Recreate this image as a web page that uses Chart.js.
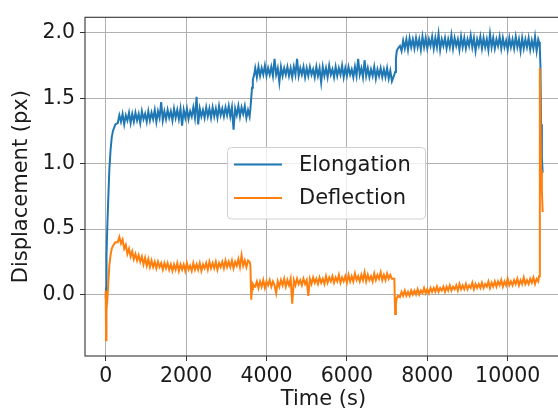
<!DOCTYPE html>
<html>
<head>
<meta charset="utf-8">
<script src="https://cdn.jsdelivr.net/npm/chart.js@4"></script>
<style>
  html, body { margin: 0; padding: 0; background: #fff; overflow: hidden; }
  #wrap { width: 566px; height: 412px; }
</style>
</head>
<body>
<div id="wrap"><canvas id="linechart__displacement" width="566" height="412"></canvas></div>
<script>
// Time axis (s)
const timeS = [
  0, 10, 20, 40, 60, 90, 120, 150, 180, 240,
  300, 340, 380, 420, 460, 500, 540, 580, 620, 660,
  700, 740, 780, 820, 860, 900, 940, 980, 1020, 1060,
  1100, 1140, 1180, 1220, 1260, 1300, 1340, 1380, 1420, 1460,
  1500, 1540, 1580, 1620, 1660, 1700, 1740, 1780, 1820, 1860,
  1900, 1940, 1980, 2020, 2060, 2100, 2140, 2180, 2220, 2260,
  2300, 2340, 2380, 2420, 2460, 2500, 2540, 2580, 2620, 2660,
  2700, 2740, 2780, 2820, 2860, 2900, 2940, 2980, 3020, 3060,
  3100, 3140, 3180, 3220, 3260, 3300, 3340, 3380, 3420, 3460,
  3500, 3540,
  3580, 3600, 3620, 3640, 3660, 3700,
  3720, 3760, 3800, 3840, 3880, 3920, 3960, 4000, 4040, 4080,
  4120, 4160, 4200, 4240, 4280, 4320, 4360, 4400, 4440, 4480,
  4520, 4560, 4600, 4640, 4680, 4720, 4760, 4800, 4840, 4880,
  4920, 4960, 5000, 5040, 5080, 5120, 5160, 5200, 5240, 5280,
  5320, 5360, 5400, 5440, 5480, 5520, 5560, 5600, 5640, 5680,
  5720, 5760, 5800, 5840, 5880, 5920, 5960, 6000, 6040, 6080,
  6120, 6160, 6200, 6240, 6280, 6320, 6360, 6400, 6440, 6480,
  6520, 6560, 6600, 6640, 6680, 6720, 6760, 6800, 6840, 6880,
  6920, 6960, 7000, 7040, 7080, 7120,
  7180, 7200, 7220, 7240, 7270,
  7320, 7360, 7400, 7440, 7480, 7520, 7560, 7600, 7640, 7680,
  7720, 7760, 7800, 7840, 7880, 7920, 7960, 8000, 8040, 8080,
  8120, 8160, 8200, 8240, 8280, 8320, 8360, 8400, 8440, 8480,
  8520, 8560, 8600, 8640, 8680, 8720, 8760, 8800, 8840, 8880,
  8920, 8960, 9000, 9040, 9080, 9120, 9160, 9200, 9240, 9280,
  9320, 9360, 9400, 9440, 9480, 9520, 9560, 9600, 9640, 9680,
  9720, 9760, 9800, 9840, 9880, 9920, 9960, 10000, 10040, 10080,
  10120, 10160, 10200, 10240, 10280, 10320, 10360, 10400, 10440, 10480,
  10520, 10560, 10600, 10640, 10680, 10720, 10760,
  10780, 10800, 10815, 10830, 10850, 10870
];

// Elongation (px)
const elongation = [
  -0.03, 0.05, 0.30, 0.52, 0.70, 0.95, 1.10, 1.20, 1.25, 1.30,
  1.31, 1.37, 1.32, 1.38, 1.30, 1.37, 1.33, 1.39, 1.31, 1.38,
  1.32, 1.39, 1.33, 1.38, 1.31, 1.40, 1.34, 1.38, 1.32, 1.40,
  1.33, 1.39, 1.34, 1.41, 1.32, 1.40, 1.35, 1.47, 1.33, 1.40,
  1.34, 1.41, 1.35, 1.40, 1.33, 1.42, 1.35, 1.41, 1.34, 1.42,
  1.29, 1.41, 1.35, 1.42, 1.34, 1.40, 1.36, 1.43, 1.35, 1.51,
  1.30, 1.42, 1.36, 1.41, 1.35, 1.43, 1.36, 1.42, 1.35, 1.43,
  1.36, 1.42, 1.35, 1.44, 1.37, 1.42, 1.36, 1.43, 1.37, 1.44,
  1.36, 1.43, 1.26, 1.42, 1.37, 1.44, 1.36, 1.43, 1.38, 1.44,
  1.35, 1.41,
  1.36, 1.42, 1.50, 1.58, 1.64, 1.69,
  1.73, 1.66, 1.74, 1.67, 1.73, 1.68, 1.75, 1.67, 1.73, 1.68,
  1.74, 1.67, 1.80, 1.68, 1.73, 1.62, 1.74, 1.67, 1.73, 1.68,
  1.74, 1.67, 1.73, 1.66, 1.74, 1.68, 1.80, 1.67, 1.73, 1.68,
  1.74, 1.66, 1.73, 1.67, 1.74, 1.68, 1.72, 1.66, 1.74, 1.67,
  1.73, 1.62, 1.74, 1.67, 1.73, 1.66, 1.75, 1.68, 1.72, 1.66,
  1.74, 1.67, 1.73, 1.68, 1.75, 1.66, 1.73, 1.67, 1.74, 1.68,
  1.72, 1.66, 1.74, 1.67, 1.80, 1.68, 1.73, 1.66, 1.79, 1.67,
  1.73, 1.66, 1.72, 1.67, 1.74, 1.65, 1.72, 1.67, 1.73, 1.66,
  1.72, 1.66, 1.73, 1.65, 1.71, 1.63,
  1.68, 1.70, 1.80, 1.86, 1.88,
  1.90, 1.86, 1.94, 1.88, 1.95, 1.87, 1.96, 1.89, 1.95, 1.88,
  1.96, 1.89, 1.95, 1.87, 1.97, 1.89, 1.96, 1.88, 1.95, 1.90,
  1.97, 1.88, 1.96, 1.89, 1.99, 1.87, 1.95, 1.90, 1.96, 1.88,
  1.95, 1.89, 1.98, 1.88, 1.96, 1.90, 1.95, 1.87, 1.97, 1.89,
  1.96, 1.88, 1.95, 1.90, 1.98, 1.89, 1.96, 1.86, 1.95, 1.90,
  1.97, 1.88, 1.96, 1.89, 1.95, 1.87, 1.99, 1.89, 1.96, 1.88,
  1.95, 1.90, 1.97, 1.88, 1.96, 1.89, 1.94, 1.87, 1.96, 1.89,
  1.95, 1.88, 1.97, 1.89, 1.95, 1.86, 1.96, 1.88, 1.95, 1.89,
  1.96, 1.87, 1.94, 1.88, 1.97, 1.86, 1.95,
  1.93, 1.88, 1.74, 1.30, 1.05, 0.93
];

// Deflection (px)
const deflection = [
  0.03, -0.35, -0.12, -0.04, 0.06, 0.22, 0.30, 0.35, 0.37, 0.40,
  0.40, 0.44, 0.39, 0.42, 0.35, 0.38, 0.31, 0.35, 0.29, 0.33,
  0.27, 0.31, 0.26, 0.30, 0.25, 0.29, 0.23, 0.28, 0.22, 0.27,
  0.21, 0.26, 0.21, 0.25, 0.20, 0.25, 0.21, 0.24, 0.19, 0.24,
  0.20, 0.24, 0.19, 0.23, 0.18, 0.23, 0.19, 0.24, 0.18, 0.23,
  0.19, 0.23, 0.18, 0.24, 0.19, 0.22, 0.18, 0.24, 0.19, 0.23,
  0.19, 0.24, 0.18, 0.23, 0.20, 0.24, 0.19, 0.25, 0.20, 0.24,
  0.20, 0.25, 0.19, 0.24, 0.21, 0.25, 0.20, 0.26, 0.21, 0.25,
  0.21, 0.26, 0.20, 0.25, 0.22, 0.27, 0.21, 0.30, 0.22, 0.26,
  0.21, 0.26,
  0.25, 0.22, -0.04, 0.04, 0.08, 0.06,
  0.06, 0.10, 0.05, 0.10, 0.06, 0.11, 0.05, 0.10, 0.07, 0.11,
  0.06, 0.10, 0.07, 0.01, 0.10, 0.06, 0.11, 0.07, 0.12, 0.06,
  0.11, 0.07, 0.12, -0.07, 0.11, 0.07, 0.12, 0.08, 0.11, 0.07,
  0.12, 0.08, 0.11, -0.01, 0.12, 0.08, 0.13, 0.09, 0.12, 0.08,
  0.13, 0.09, 0.12, 0.08, 0.14, 0.09, 0.13, 0.10, 0.14, 0.09,
  0.13, 0.10, 0.15, 0.09, 0.13, 0.10, 0.14, 0.09, 0.15, 0.10,
  0.14, 0.10, 0.16, 0.11, 0.14, 0.10, 0.15, 0.11, 0.17, 0.10,
  0.15, 0.11, 0.14, 0.10, 0.16, 0.11, 0.15, 0.12, 0.17, 0.11,
  0.15, 0.11, 0.16, 0.12, 0.15, 0.12,
  0.12, -0.15, -0.07, -0.03, -0.01,
  -0.02, 0.02, -0.01, 0.03, -0.01, 0.02, -0.01, 0.03, 0.00, 0.03,
  0.00, 0.04, 0.00, 0.03, 0.01, 0.05, 0.01, 0.04, 0.01, 0.05,
  0.02, 0.05, 0.02, 0.06, 0.02, 0.05, 0.03, 0.06, 0.02, 0.06,
  0.03, 0.07, 0.03, 0.06, 0.04, 0.07, 0.03, 0.08, 0.04, 0.07,
  0.04, 0.08, 0.04, 0.07, 0.05, 0.09, 0.04, 0.08, 0.05, 0.08,
  0.05, 0.09, 0.05, 0.08, 0.06, 0.10, 0.05, 0.09, 0.06, 0.10,
  0.06, 0.10, 0.07, 0.11, 0.06, 0.10, 0.07, 0.12, 0.07, 0.10,
  0.07, 0.11, 0.08, 0.12, 0.07, 0.11, 0.08, 0.13, 0.08, 0.11,
  0.08, 0.12, 0.09, 0.13, 0.08, 0.12, 0.10,
  0.14, 1.73, 1.35, 0.95, 0.80, 0.63
];

const xTicks = [0, 2000, 4000, 6000, 8000, 10000];
const yTicks = [0.0, 0.5, 1.0, 1.5, 2.0];

const FONT = 'DejaVu Sans';

// matplotlib-like frame around the plot area
const framePlugin = {
    id: 'frame',
    afterDatasetsDraw(chart) {
        const a = chart.chartArea, c = chart.ctx;
        c.save();
        c.strokeStyle = '#333';
        c.lineWidth = 1.1;
        c.strokeRect(a.left, a.top, a.right - a.left, a.bottom - a.top);
        c.restore();
    }
};

// floating legend in the middle of the axes
const legendPlugin = {
    id: 'floatLegend',
    afterDraw(chart) {
        const c = chart.ctx;
        const x = 227.5, y = 147.5, w = 198, h = 71.5, r = 4;
        c.save();
        c.beginPath();
        c.roundRect(x, y, w, h, r);
        c.fillStyle = 'rgba(255,255,255,0.8)';
        c.fill();
        c.strokeStyle = '#d0d0d0';
        c.lineWidth = 1;
        c.stroke();
        c.font = '21px ' + FONT;
        c.textBaseline = 'middle';
        chart.data.datasets.forEach((ds, i) => {
            const ly = 164.5 + i * 33.5;
            c.strokeStyle = ds.borderColor;
            c.lineWidth = 2;
            c.beginPath();
            c.moveTo(234, ly);
            c.lineTo(282, ly);
            c.stroke();
            c.fillStyle = '#1a1a1a';
            c.fillText(ds.label, 299, ly + 1);
        });
        c.restore();
    }
};

let ctx__displacement = document.getElementById('linechart__displacement').getContext('2d');
        new Chart(ctx__displacement, {
            type: 'line',
            data: {
                datasets: [{
                    label: 'Elongation',
                    data: timeS.map((t, i) => ({ x: t, y: elongation[i] })),
                    borderColor: '#1f77b4',
                    borderWidth: 2,
                    pointRadius: 0,
                    tension: 0,
                    order: 2
                }, {
                    label: 'Deflection',
                    data: timeS.map((t, i) => ({ x: t, y: deflection[i] })),
                    borderColor: '#ff7f0e',
                    borderWidth: 2,
                    pointRadius: 0,
                    tension: 0,
                    order: 1
                }]
            },
            options: {
                responsive: false,
                animation: false,
                devicePixelRatio: 1,
                layout: { padding: { top: 11, right: 4, left: 0, bottom: 0 } },
                plugins: {
                    legend: { display: false },
                    tooltip: { enabled: false }
                },
                scales: {
                    x: {
                        type: 'linear',
                        min: -515,
                        max: 11351,
                        afterBuildTicks: (s) => { s.ticks = xTicks.map(v => ({ value: v })); },
                        afterFit: (s) => { s.height = 56; },
                        border: { display: false },
                        grid: { color: '#b0b0b0', lineWidth: 1, tickLength: 5, tickColor: '#333' },
                        ticks: {
                            autoSkip: false, maxRotation: 0, padding: 3, color: '#1a1a1a',
                            font: { family: FONT, size: 20.5 },
                            callback: (v) => String(v)
                        },
                        title: {
                            display: true, text: 'Time (s)', color: '#1a1a1a',
                            font: { family: FONT, size: 21 }, padding: { top: 0, bottom: 0 }
                        }
                    },
                    y: {
                        min: -0.47,
                        max: 2.118,
                        afterBuildTicks: (s) => { s.ticks = yTicks.map(v => ({ value: v })); },
                        afterFit: (s) => { s.width = 85; },
                        border: { display: false },
                        grid: { color: '#b0b0b0', lineWidth: 1, tickLength: 5, tickColor: '#333' },
                        ticks: {
                            padding: 5, color: '#1a1a1a',
                            font: { family: FONT, size: 20.5 },
                            callback: (v) => v.toFixed(1)
                        },
                        title: {
                            display: true, text: 'Displacement (px)', color: '#1a1a1a',
                            font: { family: FONT, size: 21 }, padding: { top: 9, bottom: 0 }
                        }
                    }
                }
            },
            plugins: [framePlugin, legendPlugin]
        });
</script>
</body>
</html>
